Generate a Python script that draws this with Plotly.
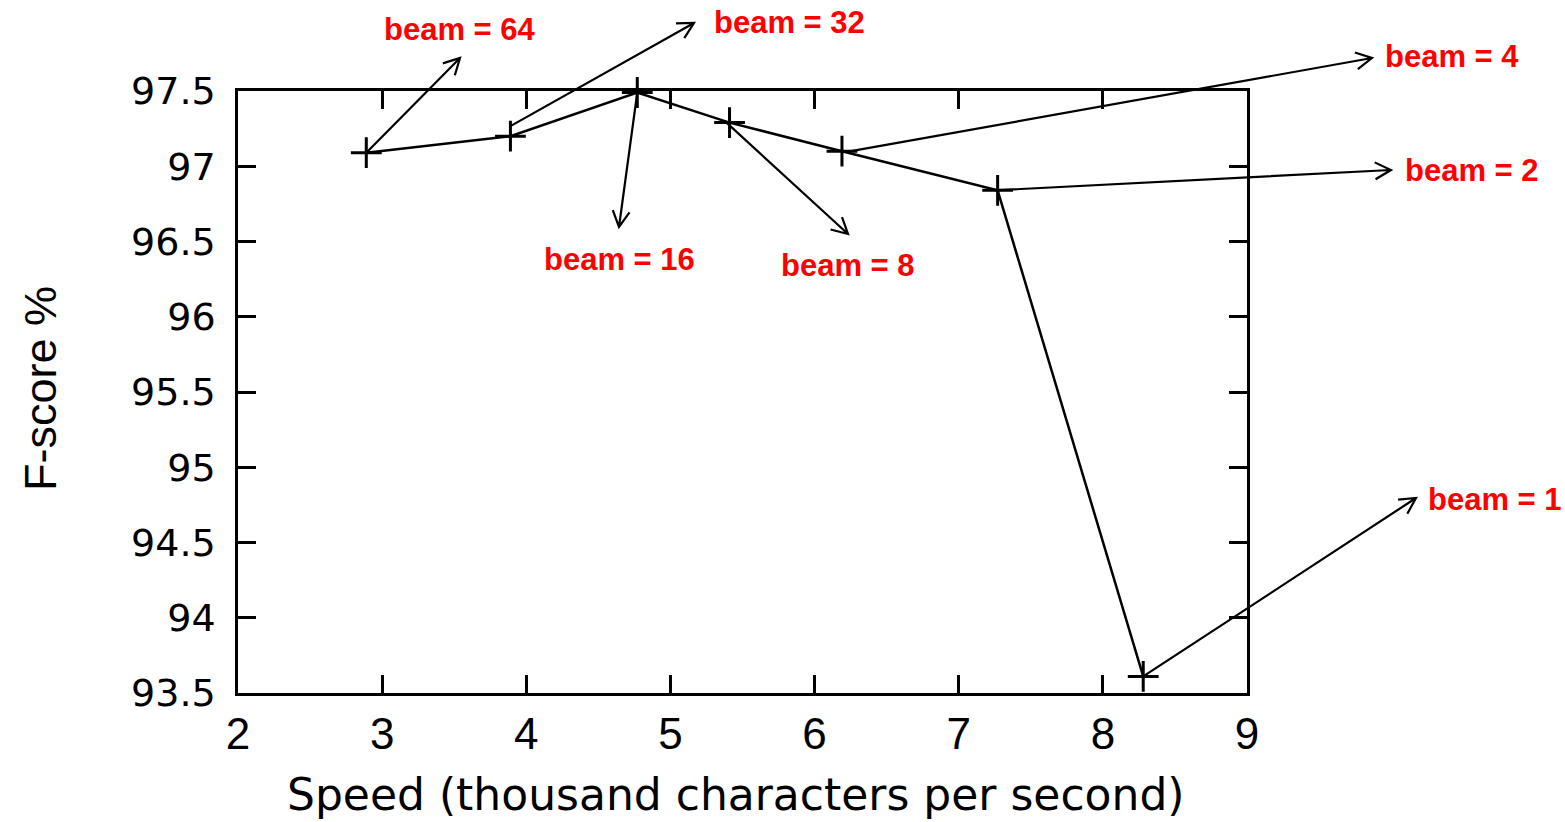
import math
import plotly.graph_objects as go

# Beam-search trade-off: decoding speed vs. F-score
beam_sizes = [64, 32, 16, 8, 4, 2, 1]
speed = [2.89, 3.89, 4.77, 5.41, 6.19, 7.27, 8.28]      # thousand chars / s
fscore = [97.09, 97.20, 97.49, 97.29, 97.10, 96.84, 93.61]

x_ticks = [2, 3, 4, 5, 6, 7, 8, 9]
y_ticks = [93.5, 94, 94.5, 95, 95.5, 96, 96.5, 97, 97.5]
y_tick_text = ["93.5", "94", "94.5", "95", "95.5", "96", "96.5", "97", "97.5"]

W, H = 1565, 822
L, R, T, B = 238, 318, 91, 129
PW, PH = W - L - R, H - T - B
XR = (2, 9)
YR = (93.5, 97.5)


def data_px(x, y):
    px = L + (x - XR[0]) / (XR[1] - XR[0]) * PW
    py = T + PH - (y - YR[0]) / (YR[1] - YR[0]) * PH
    return px, py


def paper(px, py):
    return (px - L) / PW, (T + PH - py) / PH


# callout layout per beam: tail offset from point (px), arrow tip (px),
# label anchor (px) and horizontal alignment
callouts = {
    64: dict(tail=(0, 0), tip=(460, 58), label=(460, 30), align="center"),
    32: dict(tail=(0, -10), tip=(694, 23), label=(712, 23), align="left"),
    16: dict(tail=(0, 0), tip=(619, 227), label=(619, 259), align="center"),
    8: dict(tail=(-3, 0), tip=(848, 234), label=(848, 265), align="center"),
    4: dict(tail=(9, 0), tip=(1372, 58), label=(1383, 57), align="left"),
    2: dict(tail=(-3, 0), tip=(1391, 170), label=(1403, 170), align="left"),
    1: dict(tail=(0, 0), tip=(1416, 498), label=(1426, 499), align="left"),
}

fig = go.Figure()
fig.add_trace(go.Scatter(
    x=speed, y=fscore, mode="lines+markers",
    line=dict(color="black", width=2.5),
    marker=dict(symbol="cross-thin", size=22, line=dict(color="black", width=3)),
    showlegend=False, cliponaxis=False,
))

shapes = []
annotations = []
for b, sx, sy in zip(beam_sizes, speed, fscore):
    c = callouts[b]
    px, py = data_px(sx, sy)
    tx, ty = px + c["tail"][0], py + c["tail"][1]
    hx, hy = c["tip"]
    ang = math.atan2(hy - ty, hx - tx)
    arm, spread = 18, math.radians(28)
    a1 = (hx - arm * math.cos(ang - spread), hy - arm * math.sin(ang - spread))
    a2 = (hx - arm * math.cos(ang + spread), hy - arm * math.sin(ang + spread))
    p0, p1 = paper(tx, ty), paper(hx, hy)
    q1, q2 = paper(*a1), paper(*a2)
    path = (f"M {p0[0]},{p0[1]} L {p1[0]},{p1[1]} "
            f"M {q1[0]},{q1[1]} L {p1[0]},{p1[1]} L {q2[0]},{q2[1]}")
    shapes.append(dict(type="path", xref="paper", yref="paper", path=path,
                       line=dict(color="black", width=2.2)))
    lx, ly = paper(*c["label"])
    annotations.append(dict(
        x=lx, y=ly, xref="paper", yref="paper", text=f"<b>beam = {b}</b>",
        showarrow=False, xanchor=c["align"], yanchor="middle",
        font=dict(family="Liberation Sans, Arial, sans-serif", size=31, color="#ff0000"),
    ))

# axis titles
ax_font = "Liberation Sans, Arial, Helvetica, sans-serif"
wide_font = "DejaVu Sans, Verdana, sans-serif"
tx_, ty_ = paper(736, 794)
annotations.append(dict(x=tx_, y=ty_, xref="paper", yref="paper",
                        text="Speed (thousand characters per second)", showarrow=False,
                        xanchor="center", yanchor="middle",
                        font=dict(family=wide_font, size=44, color="black")))
tx_, ty_ = paper(40, 389)
annotations.append(dict(x=tx_, y=ty_, xref="paper", yref="paper", text="F-score %",
                        showarrow=False, textangle=-90, xanchor="center", yanchor="middle",
                        font=dict(family=ax_font, size=45, color="black")))

axis_common = dict(
    showline=True, linecolor="black", linewidth=2.5, mirror="ticks",
    ticks="inside", ticklen=18, tickwidth=2.5, tickcolor="black",
    showgrid=False, zeroline=False, fixedrange=True,
)
fig.update_layout(
    width=W, height=H,
    margin=dict(l=L, r=R, t=T, b=B, pad=0),
    paper_bgcolor="white", plot_bgcolor="white",
    xaxis=dict(range=list(XR), tickvals=x_ticks, ticklabelstandoff=0,
               tickfont=dict(family=ax_font, size=44, color="black"), **axis_common),
    yaxis=dict(range=list(YR), tickvals=y_ticks, ticktext=y_tick_text, ticklabelstandoff=12,
               tickfont=dict(family=wide_font, size=38, color="black"), **axis_common),
    shapes=shapes, annotations=annotations,
)

fig.write_html("out.html", config={"displayModeBar": False})
